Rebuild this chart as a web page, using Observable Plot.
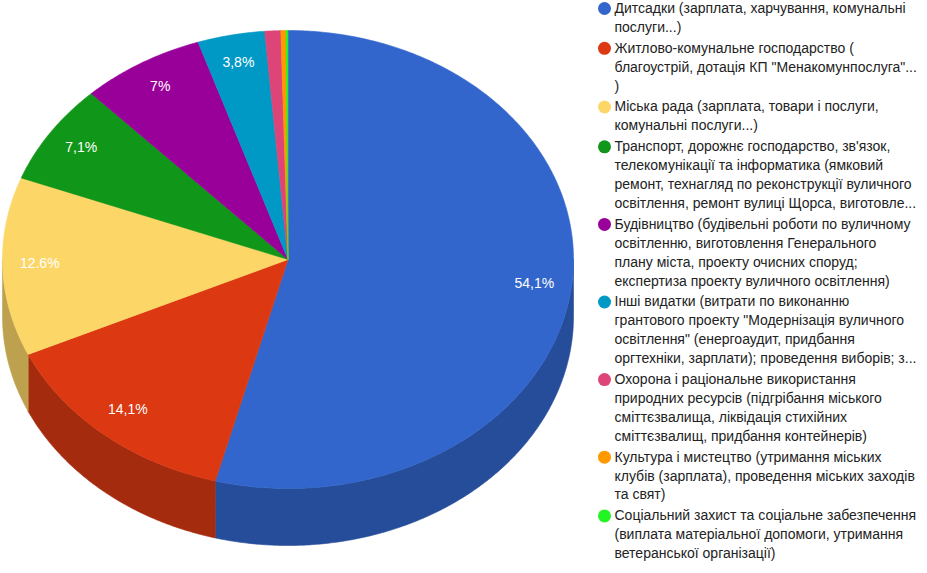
<!DOCTYPE html>
<html><head><meta charset="utf-8">
<script src="https://cdn.jsdelivr.net/npm/d3@7"></script>
<script src="https://cdn.jsdelivr.net/npm/@observablehq/plot@0.6"></script>
<style>html,body{margin:0;padding:0;background:#fff}</style>
</head><body><div id="chart"></div>
<script>
const categories = [
  "Дитсадки (зарплата, харчування, комунальні\nпослуги...)",
  "Житлово-комунальне господарство (\nблагоустрій, дотація КП \"Менакомунпослуга\"...\n)",
  "Міська рада (зарплата, товари і послуги,\nкомунальні послуги...)",
  "Транспорт, дорожнє господарство, зв'язок,\nтелекомунікації та інформатика (ямковий\nремонт, технагляд по реконструкції вуличного\nосвітлення, ремонт вулиці Щорса, виготовле...",
  "Будівництво (будівельні роботи по вуличному\nосвітленню, виготовлення Генерального\nплану міста, проекту очисних споруд;\nекспертиза проекту вуличного освітлення)",
  "Інші видатки (витрати по виконанню\nгрантового проекту \"Модернізація вуличного\nосвітлення\" (енергоаудит, придбання\nоргтехніки, зарплати); проведення виборів; з...",
  "Охорона і раціональне використання\nприродних ресурсів (підгрібання міського\nсміттєзвалища, ліквідація стихійних\nсміттєзвалищ, придбання контейнерів)",
  "Культура і мистецтво (утримання міських\nклубів (зарплата), проведення міських заходів\nта свят)",
  "Соціальний захист та соціальне забезпечення\n(виплата матеріальної допомоги, утримання\nветеранської організації)"
];
const shares = [54.1, 14.1, 12.6, 7.1, 7.0, 3.8, 0.9, 0.3, 0.1];
const sliceLabels = ["54,1%", "14,1%", "12.6%", "7,1%", "7%", "3,8%", "", "", ""];
const palette = ["#3366cc", "#dc3912", "#fdd668", "#109618", "#990099", "#0099c6", "#dd4477", "#ff9900", "#22f522"];

const W = 927, H = 573;
const cx = 287.5, cy = 259, rx = 285.5, ry = 229, depth = 57;
const total = d3.sum(shares);
const TAU = 2 * Math.PI;
const shade = c => { const k = d3.rgb(c); return d3.rgb(k.r * 0.75, k.g * 0.75, k.b * 0.75).formatHex(); };

let acc = 0;
const slices = shares.map((v, i) => {
  const a0 = acc / total * TAU; acc += v; const a1 = acc / total * TAU;
  return {i, a0, a1, color: palette[i], label: sliceLabels[i]};
});
const pt = (a, dy = 0) => ({x: cx + rx * Math.sin(a), y: cy - ry * Math.cos(a) + dy});
function arcPts(a0, a1, dy) {
  const n = Math.max(2, Math.ceil((a1 - a0) / (Math.PI / 360)) + 1);
  return d3.range(n).map(k => pt(a0 + (a1 - a0) * k / (n - 1), dy));
}

const marks = [];
// side walls (front half only)
for (const s of slices) {
  const b0 = Math.max(s.a0, Math.PI / 2), b1 = Math.min(s.a1, 3 * Math.PI / 2);
  if (b1 <= b0) continue;
  const top = arcPts(b0, b1, 0), bot = arcPts(b0, b1, depth).reverse();
  const poly = [...top, ...bot, top[0]];
  const c = shade(s.color);
  marks.push(Plot.line(poly, {x: "x", y: "y", fill: c, stroke: c, strokeWidth: 0.6, curve: "linear"}));
}
// top faces
for (const s of slices) {
  const poly = [{x: cx, y: cy}, ...arcPts(s.a0, s.a1, 0), {x: cx, y: cy}];
  marks.push(Plot.line(poly, {x: "x", y: "y", fill: s.color, stroke: s.color, strokeWidth: 0.6, curve: "linear"}));
}
// slice labels
const labelData = slices.filter(s => s.label).map(s => {
  const m = (s.a0 + s.a1) / 2;
  return {x: cx + rx * 0.87 * Math.sin(m), y: cy - ry * 0.87 * Math.cos(m) - 2, text: s.label};
});
marks.push(Plot.text(labelData, {x: "x", y: "y", text: "text", fill: "white", fontSize: 14, textAnchor: "middle"}));

// legend
const lineH = 18.9, gap = 2;
let ly = 8;
const legendDots = [], legendLines = [];
categories.forEach((c, i) => {
  const lines = c.split("\n");
  legendDots.push({x: 604, y: ly, color: palette[i]});
  lines.forEach((t, k) => legendLines.push({x: 614, y: ly + k * lineH, text: t}));
  ly += lines.length * lineH + gap;
});
marks.push(Plot.dot(legendDots, {x: "x", y: "y", r: 6.5, fill: "color", stroke: null}));
marks.push(Plot.text(legendLines, {x: "x", y: "y", text: "text", fill: "#222222", fontSize: 14, textAnchor: "start"}));

const chart = Plot.plot({
  width: W, height: H,
  margin: 0,
  x: {type: "linear", domain: [0, W], range: [0, W], axis: null},
  y: {type: "linear", domain: [0, H], range: [0, H], axis: null},
  color: {type: "identity"},
  style: {fontFamily: "Arial, 'Liberation Sans', sans-serif", background: "#fff", overflow: "visible"},
  marks
});
document.getElementById("chart").appendChild(chart);
</script>
</body></html>
